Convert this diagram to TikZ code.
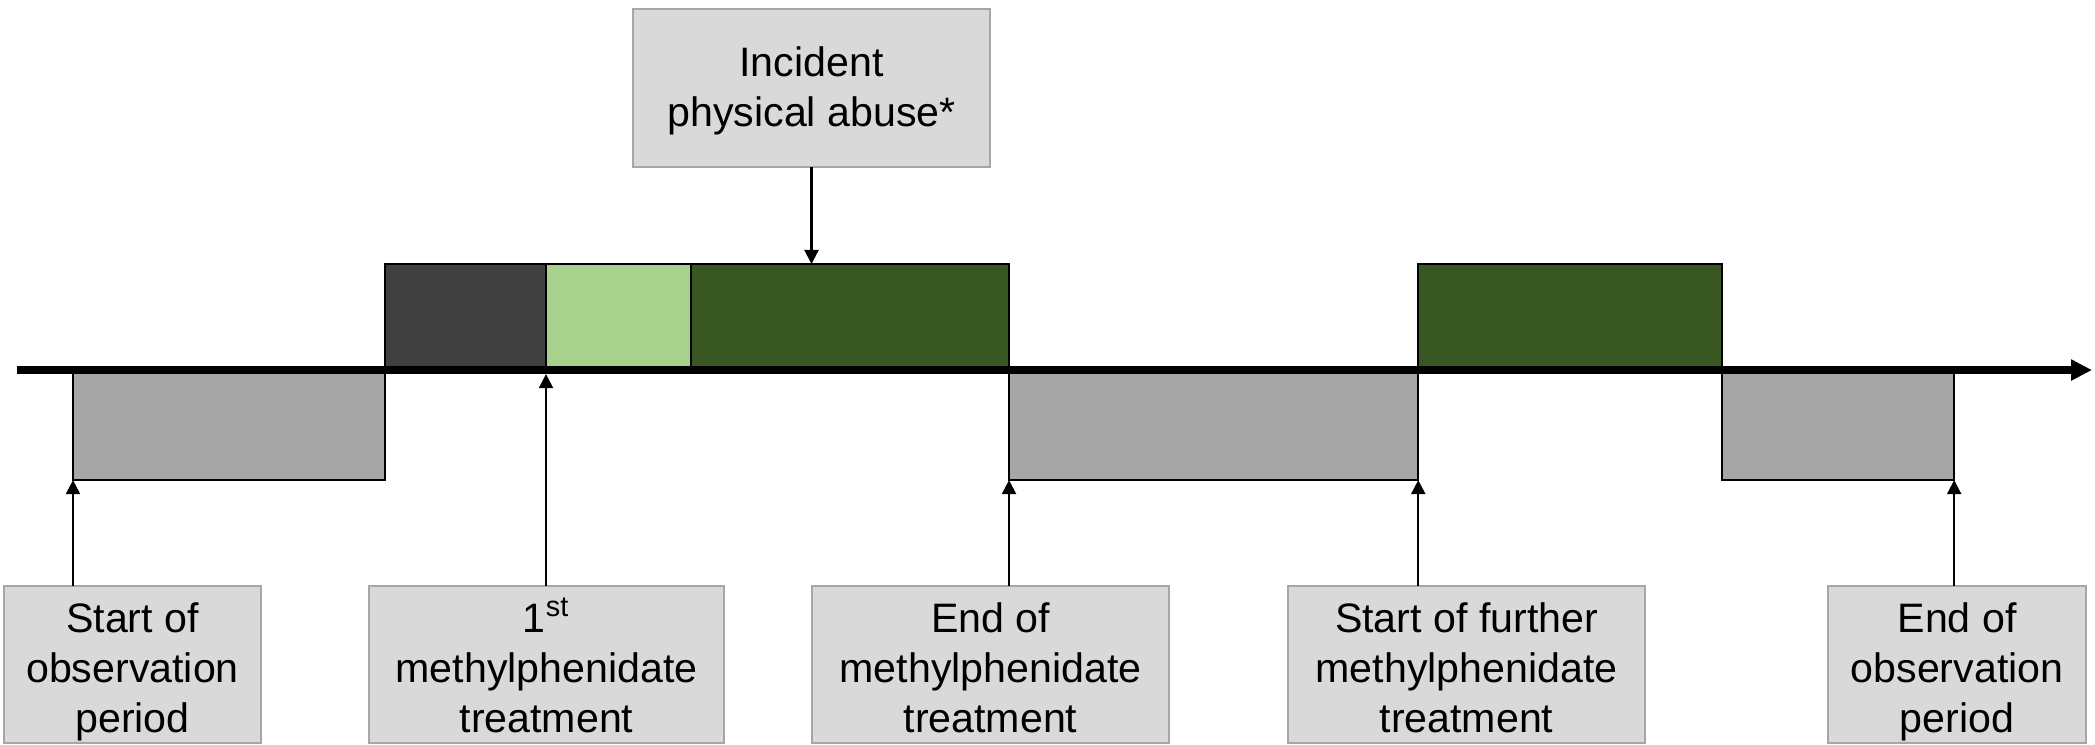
\documentclass[tikz,border=0pt]{standalone}
\usepackage{fontspec}
\setmainfont{Liberation Sans}
\usetikzlibrary{arrows.meta}
\definecolor{barGray}{HTML}{A6A6A6}
\definecolor{darkGray}{HTML}{404040}
\definecolor{lightGreen}{HTML}{A9D18E}
\definecolor{darkGreen}{HTML}{385723}
\definecolor{boxGray}{HTML}{D9D9D9}
% same baselines in every label box
\newcommand{\topstrut}{\rule{0pt}{12.5pt}}
\newcommand{\botstrut}{\rule[-2.5pt]{0pt}{2.5pt}}

\begin{document}
\begin{tikzpicture}[x=0.01cm,y=-0.01cm,
    bar/.style={rectangle,draw=black,line width=0.5pt,inner sep=0pt,outer sep=0pt,anchor=north west},
    lab/.style={rectangle,fill=boxGray,draw=barGray,line width=0.6pt,align=center,inner sep=0pt,outer sep=0pt,
      minimum height=1.57cm,font=\fontsize{11.7}{14.2}\selectfont},
    pt/.style={-{Triangle[length=4pt,width=4pt]},line width=0.6pt}]
  \useasboundingbox (0,0) rectangle (2095,744);

    % above the line
    \node[bar,fill=darkGray,minimum width=1.61cm,minimum height=1.06cm] (A) at (385,264) {};
    \node[bar,fill=lightGreen,minimum width=1.45cm,minimum height=1.06cm] (B) at (546,264) {};
    \node[bar,fill=darkGreen,minimum width=3.18cm,minimum height=1.06cm] (C) at (691,264) {};
    \node[bar,fill=darkGreen,minimum width=3.04cm,minimum height=1.06cm] (D) at (1418,264) {};

    % below the line
    \node[bar,fill=barGray,minimum width=3.12cm,minimum height=1.1cm] (P1) at (73,370) {};
    \node[bar,fill=barGray,minimum width=4.09cm,minimum height=1.1cm] (P2) at (1009,370) {};
    \node[bar,fill=barGray,minimum width=2.32cm,minimum height=1.1cm] (P3) at (1722,370) {};

    \coordinate (t0) at (17,370);
    \coordinate (t1) at (2092,370);
    \draw[line width=0.08cm,-{Triangle[length=0.21cm,width=0.2cm]}] (t0) -- (t1);

    \node[lab,minimum width=3.57cm,minimum height=1.58cm] (I) at (811.5,88) {\rule{0pt}{10pt}Incident\\physical abuse*\botstrut};

    \node[lab,minimum width=2.57cm] (S) at (132.5,664.5) {\topstrut Start of\\observation\\period\botstrut};
    \node[lab,minimum width=3.55cm] (F) at (546.5,664.5) {\topstrut 1\textsuperscript{st}\\methylphenidate\\treatment\botstrut};
    \node[lab,minimum width=3.57cm] (E) at (990.5,664.5) {\topstrut End of\\methylphenidate\\treatment\botstrut};
    \node[lab,minimum width=3.57cm] (R) at (1466.5,664.5) {\topstrut Start of further\\methylphenidate\\treatment\botstrut};
    \node[lab,minimum width=2.58cm] (O) at (1957,664.5) {\topstrut End of\\observation\\period\botstrut};

      \draw[pt] (I.south) -- (I.south |- C.north);

      \draw[pt] (S.north -| P1.south west) -- (P1.south west);
      \draw[pt,shorten >=0.04cm] (F.north -| B.south west) -- (B.south west);
      \draw[pt] (E.north -| P2.south west) -- (P2.south west);
      \draw[pt] (R.north -| P2.south east) -- (P2.south east);
      \draw[pt] (O.north -| P3.south east) -- (P3.south east);
\end{tikzpicture}
\end{document}
